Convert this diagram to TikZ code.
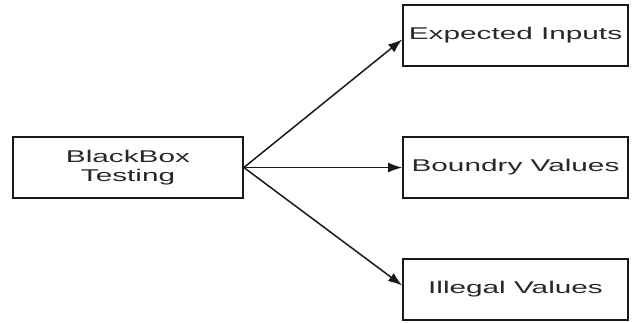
\documentclass[tikz,border=0pt]{standalone}
\usepackage{fontspec}
\usepackage{graphicx}
\setmainfont{Liberation Sans}
\usetikzlibrary{arrows.meta}
\newcommand{\stx}[1]{\scalebox{1.75}[1]{#1}}
\definecolor{txt}{RGB}{40,40,40}
\definecolor{ln}{RGB}{25,25,25}
\begin{document}
\begin{tikzpicture}[x=1pt,y=1pt,
  box/.style={draw=ln, line width=1.7pt, minimum height=61pt, inner sep=0pt, align=center,
    text=txt, font=\fontsize{17}{19}\selectfont},
  conn/.style={draw=ln, line width=1.5pt, -{Latex[length=14pt,width=10pt]}}]
\useasboundingbox (0,0) rectangle (632,-322);
\node[box, minimum width=230pt] (bb) at (128,-167.5) {\stx{BlackBox}\\\stx{Testing}};
\node[box, minimum width=225pt] (ei) at (515.5,-35.5) {\stx{Expected Inputs}};
\node[box, minimum width=225pt] (bv) at (515.5,-167.5) {\stx{Boundry Values}};
\node[box, minimum width=225pt] (iv) at (515.5,-289.5) {\stx{Illegal Values}};
\draw[conn] (bb.east) -- ([yshift=-4pt]ei.west);
\draw[conn] (bb.east) -- (bv.west);
\draw[conn] (bb.east) -- ([yshift=4pt]iv.west);
\end{tikzpicture}
\end{document}
